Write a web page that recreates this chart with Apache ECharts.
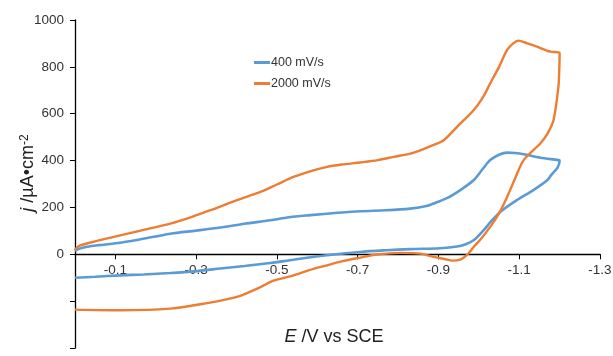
<!DOCTYPE html>
<html>
<head>
<meta charset="utf-8">
<script src="https://cdn.jsdelivr.net/npm/echarts@6/dist/echarts.min.js"></script>
<style>html,body{margin:0;padding:0;background:#fff}#c{width:613px;height:356px}</style>
</head>
<body>
<div id="c"></div>
<script>
var seriesNames = ['400 mV/s', '2000 mV/s'];
var xTickValues = [-0.1, -0.3, -0.5, -0.7, -0.9, -1.1, -1.3];
var yTickLabels = [0, 200, 400, 600, 800, 1000];

var blueE = [0, -0.01, -0.03, -0.06, -0.096, -0.15, -0.236, -0.30, -0.36, -0.42, -0.484, -0.53, -0.583, -0.65, -0.706, -0.77, -0.83, -0.87, -0.896, -0.925, -0.954, -0.987, -1.01, -1.028, -1.05, -1.07, -1.09, -1.111, -1.152, -1.197, -1.2,
  -1.195, -1.18, -1.169, -1.135, -1.094, -1.053, -1.03, -1.012, -0.987, -0.966, -0.946, -0.904, -0.83, -0.77, -0.706, -0.624, -0.541, -0.484, -0.42, -0.36, -0.30, -0.236, -0.17, -0.112, -0.05, 0];
var blueJ = [15, 24, 32, 39, 46, 60, 88, 101, 114, 130, 145, 158, 167, 177, 184, 188, 195, 206, 222, 243, 274, 316, 365, 402, 425, 434, 432, 427, 412, 402, 400,
  370, 340, 316, 274, 231, 181, 140, 103, 60, 42, 33, 26, 22, 17, 10, -4, -23, -37, -50, -61, -72, -80, -86, -90, -96, -100];

var orangeE = [0, -0.005, -0.013, -0.05, -0.096, -0.16, -0.236, -0.29, -0.335, -0.401, -0.459, -0.5, -0.541, -0.58, -0.624, -0.66, -0.706, -0.75, -0.789, -0.83, -0.855, -0.885, -0.913, -0.946, -0.987, -1.01, -1.028, -1.05, -1.07, -1.085, -1.098, -1.12, -1.144, -1.177, -1.198, -1.2,
  -1.199, -1.197, -1.185, -1.17, -1.152, -1.111, -1.09, -1.07, -1.05, -1.028, -1.005, -0.987, -0.97, -0.954, -0.935, -0.915, -0.888, -0.855, -0.805, -0.748, -0.706, -0.66, -0.624, -0.58, -0.541, -0.5, -0.484, -0.459, -0.401, -0.319, -0.236, -0.112, 0];
var orangeJ = [17, 30, 38, 55, 74, 100, 131, 160, 188, 231, 266, 298, 330, 353, 373, 383, 392, 402, 416, 430, 444, 465, 487, 544, 615, 670, 729, 800, 872, 900, 912, 900, 886, 865, 862, 858,
  780, 715, 573, 515, 473, 402, 325, 245, 175, 117, 65, 31, -4, -23, -27, -20, -11, 3, 6, -1, -14, -30, -47, -68, -90, -108, -118, -140, -182, -211, -232, -239, -236];

function pairs(a, b) { return a.map(function (v, i) { return [v, b[i]]; }); }

var FONT = 'Liberation Sans, Arial, sans-serif';
var chart = echarts.init(document.getElementById('c'), null, { renderer: 'canvas' });
chart.setOption({
  animation: false,
  color: ['#5B9BD5', '#ED7D31'],
  grid: [
    { left: 75, right: 13, top: 20, bottom: 8, containLabel: false, outerBoundsMode: 'none' },
    { left: 75, right: 13, top: 20, height: 234.3, containLabel: false, outerBoundsMode: 'none' }
  ],
  legend: {
    data: seriesNames,
    orient: 'vertical',
    left: 249, top: 51,
    icon: 'rect', itemWidth: 16, itemHeight: 3, itemGap: 8,
    textStyle: { fontFamily: FONT, fontSize: 12.5, color: '#333', padding: [0, 0, 0, -4] }
  },
  xAxis: [
    { type: 'value', gridIndex: 0, min: -1.3, max: 0, inverse: true, show: false, splitLine: { show: false } },
    { type: 'value', gridIndex: 1, min: -1.3, max: 0, inverse: true, position: 'bottom',
      axisLine: { show: true, onZero: false, lineStyle: { color: '#000', width: 1.3 } },
      axisTick: { show: true, length: 5, customValues: xTickValues, lineStyle: { color: '#000' } },
      axisLabel: { customValues: xTickValues, margin: 9, fontFamily: FONT, fontSize: 13.5, color: '#333',
        formatter: function (v) { return v.toFixed(1); } },
      splitLine: { show: false } }
  ],
  yAxis: [
    { type: 'value', gridIndex: 0, min: -400, max: 1000, interval: 200,
      axisLine: { show: true, onZero: false, lineStyle: { color: '#000', width: 1.3 } },
      axisTick: { show: true, length: 5, lineStyle: { color: '#000' } },
      axisLabel: { margin: 11, fontFamily: FONT, fontSize: 13.5, color: '#333',
        formatter: function (v) { return yTickLabels.indexOf(v) >= 0 ? String(v) : ''; } },
      splitLine: { show: false } },
    { type: 'value', gridIndex: 1, min: 0, max: 1000, show: false, splitLine: { show: false } }
  ],
  graphic: [
    { type: 'text', x: 28, y: 173, rotation: Math.PI / 2,
      style: { text: '{i|j} /µA•cm{s|-2}', align: 'center', verticalAlign: 'middle',
        fontFamily: FONT, fontSize: 18, fill: '#222',
        rich: { i: { fontStyle: 'italic', fontFamily: FONT, fontSize: 18, fill: '#222' },
                s: { fontFamily: FONT, fontSize: 12, verticalAlign: 'top', fill: '#222' } } } },
    { type: 'text', x: 334, y: 337,
      style: { text: '{i|E} /V vs SCE', align: 'center', verticalAlign: 'middle',
        fontFamily: FONT, fontSize: 18, fill: '#222',
        rich: { i: { fontStyle: 'italic', fontFamily: FONT, fontSize: 18, fill: '#222' } } } }
  ],
  series: [
    { name: seriesNames[0], type: 'line', xAxisIndex: 0, yAxisIndex: 0, data: pairs(blueE, blueJ), showSymbol: false, smooth: 0.3,
      lineStyle: { width: 2.6, color: '#5B9BD5' } },
    { name: seriesNames[1], type: 'line', xAxisIndex: 0, yAxisIndex: 0, data: pairs(orangeE, orangeJ), showSymbol: false, smooth: 0.3,
      lineStyle: { width: 2.4, color: '#ED7D31' } }
  ]
});
</script>
</body>
</html>
